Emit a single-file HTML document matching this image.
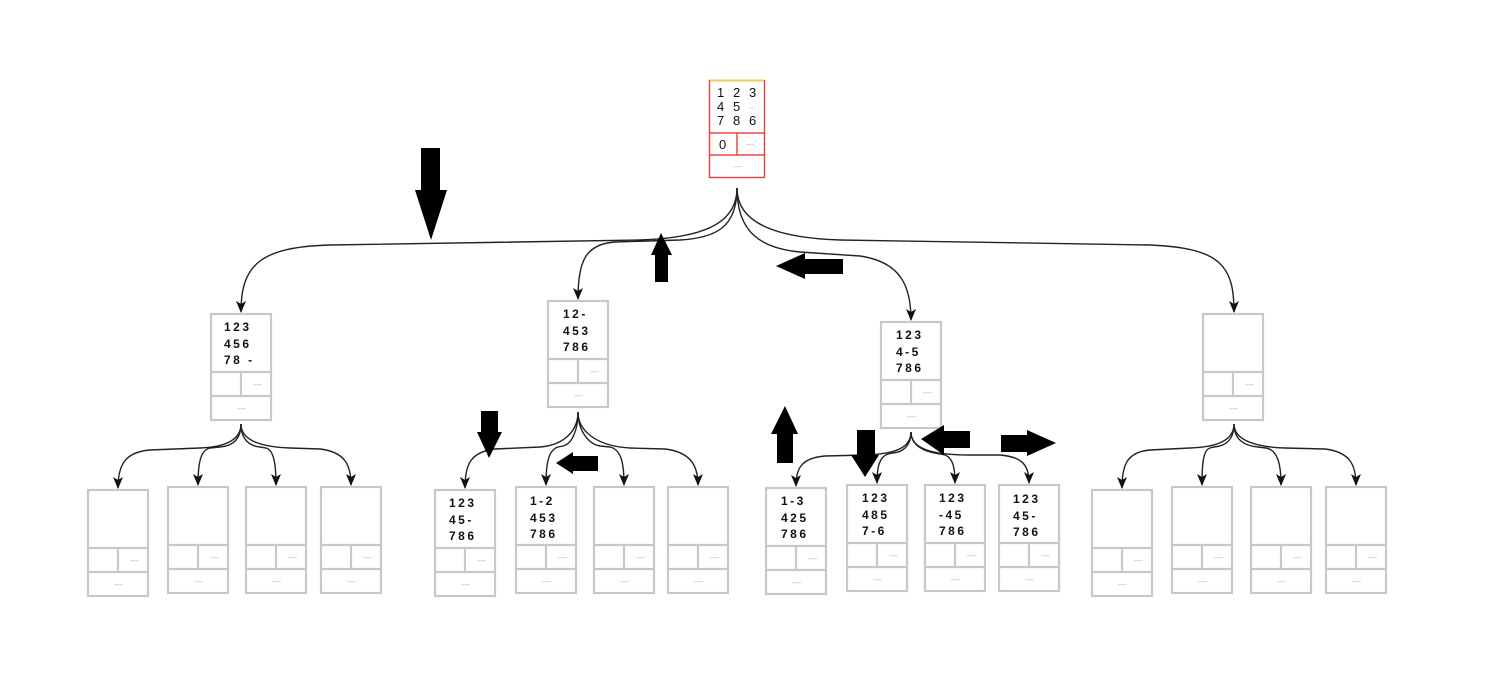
<!DOCTYPE html>
<html><head><meta charset="utf-8"><style>
html,body{margin:0;padding:0;background:#fff;}
svg{display:block;}
.t{font-family:"Liberation Sans",sans-serif;font-weight:bold;font-size:12px;letter-spacing:2.5px;fill:#111;}
.r{font-family:"Liberation Sans",sans-serif;font-size:13px;fill:#111;}
.d{fill:#bbb;font-family:"Liberation Sans",sans-serif;font-size:9px;}
</style></head><body>
<svg width="1505" height="693" viewBox="0 0 1505 693" xmlns="http://www.w3.org/2000/svg">
<defs>
<marker id="m" markerWidth="12" markerHeight="10" refX="11" refY="5" orient="auto" markerUnits="userSpaceOnUse" viewBox="0 0 12 10">
<path d="M0,0 L12,5 L0,10 L3,5 Z" fill="#111"/>
</marker>
<g id="n" fill="none" stroke="#c8c8c8" stroke-width="2.2">
<rect x="0" y="0" width="60" height="106"/>
<line x1="0" y1="58" x2="60" y2="58"/>
<line x1="0" y1="82" x2="60" y2="82"/>
<line x1="30" y1="58" x2="30" y2="82"/>
</g>
<g id="dash"><text x="42" y="73" class="d">—</text><text x="26" y="97" class="d">—</text></g>
</defs>

<!-- root -->
<g fill="none" stroke="#e84040" stroke-width="1.4">
<rect x="709.5" y="80.5" width="55" height="97"/>
<line x1="709" y1="133" x2="765" y2="133"/>
<line x1="709" y1="155" x2="765" y2="155"/>
<line x1="737" y1="133" x2="737" y2="155"/>
</g>
<line x1="710" y1="80.5" x2="764" y2="80.5" stroke="#f0c860" stroke-width="2"/>
<text class="r" x="717" y="97">1</text><text class="r" x="733" y="97">2</text><text class="r" x="749" y="97">3</text>
<text class="r" x="717" y="111">4</text><text class="r" x="733" y="111">5</text><text class="d" x="749" y="110">–</text>
<text class="r" x="717" y="125">7</text><text class="r" x="733" y="125">8</text><text class="r" x="749" y="125">6</text>
<text class="r" x="719" y="149">0</text><text class="d" x="746" y="147">—</text>
<text class="d" x="733" y="169">—</text>

<!-- edges -->
<g fill="none" stroke="#222" stroke-width="1.4" marker-end="url(#m)">
<path d="M737,188 C737,225 700,238 640,240 L330,245 C260,247 241,265 241,312"/>
<path d="M737,188 C737,228 715,238 680,240 L615,242 C585,244 578,262 578,299"/>
<path d="M737,188 C737,232 760,248 800,252 L860,256 C900,262 911,285 911,320"/>
<path d="M737,188 C737,225 780,238 840,240 L1150,245 C1220,248 1234,265 1234,312"/>

<path d="M241,424 C241,440 225,447 200,448 L150,450 C125,452 118,465 118,488"/>
<path d="M241,424 C241,440 232,446 220,447 L210,448 C200,450 198,465 198,485"/>
<path d="M241,424 C241,440 250,446 260,447 L266,448 C274,450 276,465 276,485"/>
<path d="M241,424 C241,440 260,447 290,448 L320,449 C345,452 351,465 351,485"/>

<path d="M578,412 C578,430 565,445 540,447 L495,449 C470,452 465,465 465,488"/>
<path d="M578,412 C578,430 572,444 563,446 L558,447 C548,450 546,465 546,485"/>
<path d="M578,412 C578,430 588,444 600,446 L610,447 C622,450 624,465 624,485"/>
<path d="M578,412 C578,430 595,446 630,448 L665,449 C690,452 698,465 698,485"/>

<path d="M911,432 C911,448 895,454 865,455 L825,456 C800,458 796,470 796,486"/>
<path d="M911,432 C911,446 903,452 893,453 L888,454 C879,457 877,468 877,483"/>
<path d="M911,432 C911,446 925,452 940,454 L945,455 C953,458 955,468 955,483"/>
<path d="M911,432 C911,450 935,455 970,455 L1000,455 C1025,457 1029,468 1029,483"/>

<path d="M1234,424 C1234,440 1218,447 1190,448 L1150,450 C1127,452 1122,465 1122,488"/>
<path d="M1234,424 C1234,440 1226,446 1214,447 L1210,448 C1203,450 1202,465 1202,485"/>
<path d="M1234,424 C1234,440 1245,446 1258,447 L1266,448 C1278,450 1281,465 1281,485"/>
<path d="M1234,424 C1234,440 1255,447 1285,448 L1325,449 C1350,452 1356,465 1356,485"/>
</g>

<!-- level 1 -->
<use href="#n" x="211" y="314"/><use href="#dash" x="211" y="314"/>
<use href="#n" x="548" y="301"/><use href="#dash" x="548" y="301"/>
<use href="#n" x="881" y="322"/><use href="#dash" x="881" y="322"/>
<use href="#n" x="1203" y="314"/><use href="#dash" x="1203" y="314"/>
<text class="t" x="224" y="331">123</text><text class="t" x="224" y="348">456</text><text class="t" x="224" y="364">78 -</text>
<text class="t" x="563" y="318">12-</text><text class="t" x="563" y="335">453</text><text class="t" x="563" y="351">786</text>
<text class="t" x="896" y="339">123</text><text class="t" x="896" y="356">4-5</text><text class="t" x="896" y="372">786</text>

<!-- level 2 -->
<use href="#n" x="88" y="490"/><use href="#dash" x="88" y="490"/>
<use href="#n" x="168" y="487"/><use href="#dash" x="168" y="487"/>
<use href="#n" x="246" y="487"/><use href="#dash" x="246" y="487"/>
<use href="#n" x="321" y="487"/><use href="#dash" x="321" y="487"/>

<use href="#n" x="435" y="490"/><use href="#dash" x="435" y="490"/>
<use href="#n" x="516" y="487"/><use href="#dash" x="516" y="487"/>
<use href="#n" x="594" y="487"/><use href="#dash" x="594" y="487"/>
<use href="#n" x="668" y="487"/><use href="#dash" x="668" y="487"/>

<use href="#n" x="766" y="488"/><use href="#dash" x="766" y="488"/>
<use href="#n" x="847" y="485"/><use href="#dash" x="847" y="485"/>
<use href="#n" x="925" y="485"/><use href="#dash" x="925" y="485"/>
<use href="#n" x="999" y="485"/><use href="#dash" x="999" y="485"/>

<use href="#n" x="1092" y="490"/><use href="#dash" x="1092" y="490"/>
<use href="#n" x="1172" y="487"/><use href="#dash" x="1172" y="487"/>
<use href="#n" x="1251" y="487"/><use href="#dash" x="1251" y="487"/>
<use href="#n" x="1326" y="487"/><use href="#dash" x="1326" y="487"/>

<text class="t" x="449" y="507">123</text><text class="t" x="449" y="524">45-</text><text class="t" x="449" y="540">786</text>
<text class="t" x="530" y="505">1-2</text><text class="t" x="530" y="522">453</text><text class="t" x="530" y="538">786</text>
<text class="t" x="781" y="505">1-3</text><text class="t" x="781" y="522">425</text><text class="t" x="781" y="538">786</text>
<text class="t" x="862" y="502">123</text><text class="t" x="862" y="519">485</text><text class="t" x="862" y="535">7-6</text>
<text class="t" x="939" y="502">123</text><text class="t" x="939" y="519">-45</text><text class="t" x="939" y="535">786</text>
<text class="t" x="1013" y="503">123</text><text class="t" x="1013" y="520">45-</text><text class="t" x="1013" y="536">786</text>

<!-- block arrows -->
<g fill="#000">
<polygon points="421,148 440,148 440,190 447,190 431,240 415,190 421,190"/>
<polygon points="661,233 672,255 668,255 668,282 655,282 655,255 651,255"/>
<polygon points="776,266 805,253 805,259 843,259 843,274 805,274 805,279"/>
<polygon points="481,411 498,411 498,432 502,432 489,458 477,432 481,432"/>
<polygon points="556,463 573,452 573,456 598,456 598,471 573,471 573,474"/>
<polygon points="785,406 798,434 793,434 793,463 777,463 777,434 771,434"/>
<polygon points="857,430 875,430 875,455 879,455 865,477 851,455 857,455"/>
<polygon points="921,439 944,425 944,431 970,431 970,448 944,448 944,455"/>
<polygon points="1001,435 1027,435 1027,430 1056,443 1027,456 1027,452 1001,452"/>
</g>
</svg>
</body></html>
